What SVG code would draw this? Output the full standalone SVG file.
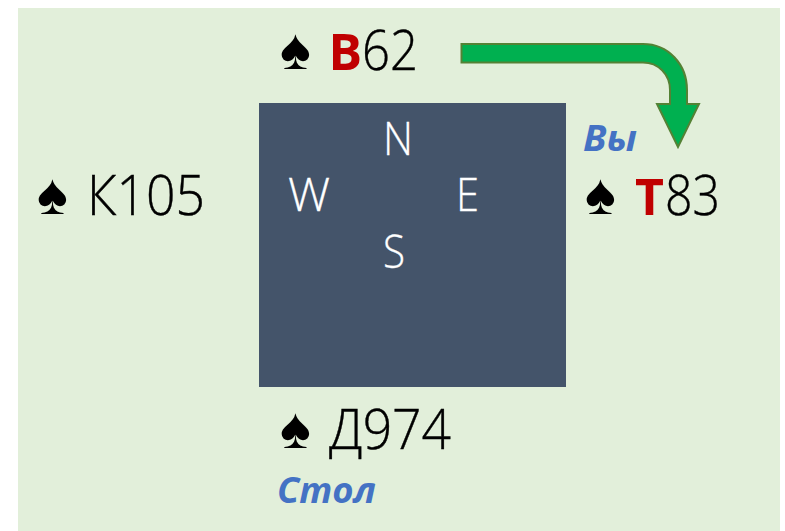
<svg xmlns="http://www.w3.org/2000/svg" width="785" height="531" viewBox="0 0 785 531">
<style>
.c{font-family:"Open Sans","Noto Sans",sans-serif;font-weight:300;font-size:55px;fill:#000;stroke:#000;stroke-width:.4px}
.r{font-family:"Open Sans","Liberation Sans",sans-serif;font-weight:700;font-size:50px;fill:#c00000}
.s{font-family:"Liberation Sans",sans-serif;font-size:58px;fill:#000}
.d{font-family:"Open Sans","Noto Sans",sans-serif;font-weight:300;font-size:46px;fill:#fff;stroke:#fff;stroke-width:.3px}
.b{font-family:"Open Sans","Liberation Sans",sans-serif;font-weight:700;font-style:italic;font-size:36px;fill:#4472c4}
</style>
<rect x="18" y="8" width="762" height="523" fill="#e2efda"/>
<g id="table">
<rect x="259" y="103" width="307" height="284" fill="#44546a"/>
<text class="d" x="383" y="155" textLength="30" lengthAdjust="spacingAndGlyphs">N</text>
<text class="d" x="288" y="211" textLength="42" lengthAdjust="spacingAndGlyphs">W</text>
<text class="d" x="456" y="211" textLength="23" lengthAdjust="spacingAndGlyphs">E</text>
<text class="d" x="383" y="268" textLength="22" lengthAdjust="spacingAndGlyphs">S</text>
</g>
<g id="north"><text class="s" x="280" y="69">♠</text><text class="r" x="328.500" y="70">В</text><text class="c" x="362" y="70" textLength="56" lengthAdjust="spacingAndGlyphs">62</text></g>
<g id="west"><text class="s" x="37" y="214">♠</text><text class="c" x="87" y="215" textLength="118" lengthAdjust="spacingAndGlyphs">К105</text></g>
<g id="east"><text class="s" x="585" y="214">♠</text><text class="r" x="635" y="215">Т</text><text class="c" x="665" y="215" textLength="55" lengthAdjust="spacingAndGlyphs">83</text><text class="b" x="583" y="151" textLength="54" lengthAdjust="spacingAndGlyphs">Вы</text></g>
<g id="south"><text class="s" x="280" y="448">♠</text><text class="c" x="329" y="449" textLength="122" lengthAdjust="spacingAndGlyphs">Д974</text><text class="b" x="277" y="503" textLength="99" lengthAdjust="spacingAndGlyphs">Стол</text></g>
<g id="connectors">
<path d="M461.5 44H643C668 44 687 64 687 90V104H699L678 147L657 104H670V90C670 74 658 62.500 643 62.500H461.5Z" fill="#00b050" stroke="#548235" stroke-width="2"/>
</g>
</svg>
